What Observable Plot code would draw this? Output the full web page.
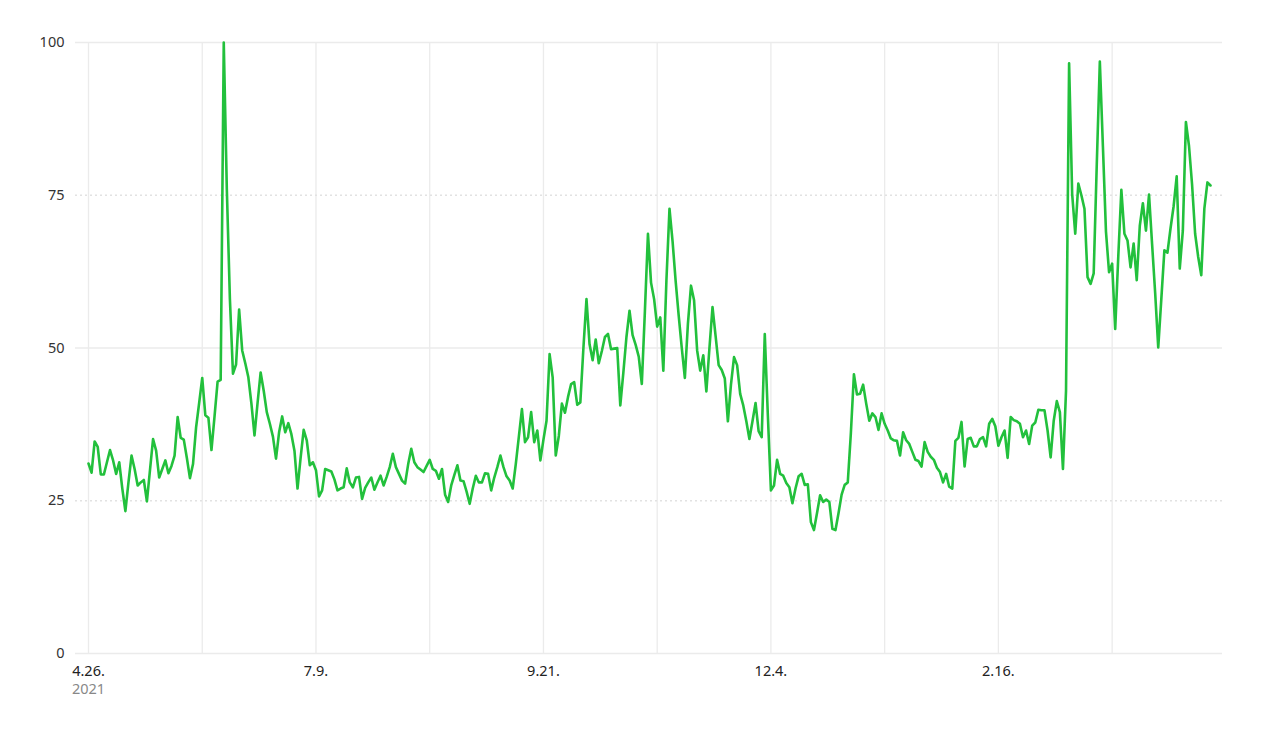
<!DOCTYPE html>
<html>
<head>
<meta charset="utf-8">
<script src="https://cdn.jsdelivr.net/npm/d3@7"></script>
<script src="https://cdn.jsdelivr.net/npm/@observablehq/plot@0.6"></script>
<style>
  html, body { margin: 0; padding: 0; background: #fff; }
  #chart svg { display: block; }
</style>
</head>
<body>
<div id="chart"></div>
<script>
// ---- data ----
const startDate = "2021-04-26";
const values = [
  31.1, 29.6, 34.7, 33.8, 29.3, 29.3, 31.3, 33.3, 31.6, 29.4,
  31.3, 27.0, 23.3, 28.0, 32.4, 30.2, 27.5, 28.0, 28.4, 24.9,
  30.0, 35.1, 33.2, 28.8, 30.2, 31.6, 29.5, 30.7, 32.4, 38.7,
  35.3, 35.0, 32.0, 28.7, 31.0, 37.0, 41.0, 45.1, 39.0, 38.6,
  33.3, 38.8, 44.5, 44.8, 100, 76.0, 58.0, 45.8, 47.3, 56.3,
  49.6, 47.5, 45.2, 40.9, 35.7, 41.0, 46.0, 43.0, 39.5, 37.6,
  35.5, 31.9, 36.2, 38.8, 36.2, 37.7, 35.9, 33.2, 27.0, 32.0,
  36.6, 34.9, 30.8, 31.3, 30.0, 25.7, 26.7, 30.2, 30.0, 29.8,
  28.5, 26.7, 27.0, 27.2, 30.3, 28.0, 27.2, 28.8, 28.9, 25.3,
  27.1, 28.0, 28.8, 26.8, 28.0, 29.1, 27.5, 28.9, 30.5, 32.7,
  30.5, 29.4, 28.3, 27.8, 31.0, 33.5, 31.3, 30.5, 30.1, 29.7,
  30.7, 31.7, 30.2, 29.9, 28.6, 30.2, 26.0, 24.8, 27.5, 29.2,
  30.8, 28.3, 28.2, 26.5, 24.5, 27.0, 29.1, 28.0, 28.0, 29.5,
  29.4, 26.7, 28.8, 30.5, 32.4, 30.5, 29.0, 28.3, 27.0, 31.0,
  35.5, 40.0, 34.6, 35.4, 39.5, 34.6, 36.5, 31.6, 35.0, 38.1,
  49.0, 45.2, 32.4, 35.6, 40.9, 39.4, 42.0, 44.1, 44.4, 40.7,
  41.1, 50.0, 58.0, 50.6, 48.0, 51.4, 47.5, 49.5, 51.8, 52.3,
  49.8, 49.9, 50.0, 40.6, 46.0, 51.8, 56.1, 52.1, 50.5, 48.6,
  44.1, 56.0, 68.7, 60.7, 58.0, 53.5, 55.0, 46.3, 61.0, 72.8,
  67.5, 61.0, 55.3, 50.0, 45.1, 54.0, 60.2, 57.8, 49.6, 46.3,
  48.8, 42.9, 50.0, 56.7, 52.0, 47.2, 46.4, 45.0, 38.0, 44.0,
  48.5, 47.2, 42.5, 40.6, 38.0, 35.1, 38.0, 41.0, 36.4, 35.4,
  52.3, 39.0, 26.7, 27.5, 31.7, 29.4, 29.1, 27.9, 27.2, 24.6,
  27.0, 29.0, 29.4, 27.6, 27.7, 21.5, 20.2, 23.0, 25.9, 24.8,
  25.2, 24.8, 20.4, 20.2, 23.0, 26.0, 27.6, 28.0, 36.0, 45.7,
  42.4, 42.5, 44.0, 40.9, 38.1, 39.3, 38.7, 36.6, 39.3, 37.6,
  36.5, 35.2, 34.9, 34.8, 32.4, 36.2, 34.9, 34.3, 33.0, 31.7,
  31.5, 30.6, 34.6, 33.0, 32.2, 31.7, 30.4, 29.7, 28.0, 29.4,
  27.3, 27.0, 34.8, 35.3, 37.9, 30.6, 35.1, 35.3, 33.9, 33.9,
  35.1, 35.4, 33.9, 37.6, 38.4, 37.2, 34.0, 35.4, 36.5, 32.0,
  38.7, 38.2, 38.0, 37.6, 35.4, 36.5, 34.3, 37.3, 37.8, 39.9,
  39.8, 39.8, 36.5, 32.1, 38.1, 41.3, 39.5, 30.2, 43.0, 96.6,
  75.2, 68.7, 76.9, 75.0, 72.8, 61.6, 60.5, 62.2, 80.0, 96.9,
  83.0, 69.0, 62.4, 63.8, 53.1, 65.0, 75.9, 68.7, 67.6, 63.2,
  67.1, 61.1, 70.0, 73.7, 69.2, 75.1, 67.0, 59.0, 50.1, 58.0,
  66.0, 65.6, 69.6, 73.2, 78.1, 63.0, 69.2, 87.0, 83.1, 76.8,
  68.7, 64.9, 61.9, 72.8, 77.1, 76.6
];
const labeledTickDates = ["2021-04-26", "2021-07-09", "2021-09-21", "2021-12-04", "2022-02-16"];
const tickLabels = ["4.26.", "7.9.", "9.21.", "12.4.", "2.16."];
const gridDates = ["2021-04-26", "2021-06-02", "2021-07-09", "2021-08-15", "2021-09-21",
                   "2021-10-28", "2021-12-04", "2022-01-10", "2022-02-16", "2022-03-25"];
const yearLabel = { date: "2021-04-26", text: "2021" };
const yTicks = [0, 25, 50, 75, 100];
const ySolid = [0, 50, 100];
const yDotted = [25, 75];

// ---- build ----
const parse = d3.utcParse("%Y-%m-%d");
const start = parse(startDate);
const data = values.map((v, i) => ({ date: d3.utcDay.offset(start, i), value: v }));
const end = data[data.length - 1].date;

const chart = Plot.plot({
  width: 1280,
  height: 731,
  marginLeft: 75,
  marginRight: 58,
  marginTop: 42,
  marginBottom: 78,
  style: { fontFamily: "'Noto Sans', 'Open Sans', sans-serif", fontSize: "14.5px", background: "#fff" },
  x: { type: "utc", domain: [start, end], insetLeft: 13, insetRight: 12 },
  y: { domain: [0, 100] },
  marks: [
    Plot.ruleX(gridDates.map(parse), { y1: 0, y2: 100, stroke: "#ebebeb", strokeWidth: 1.3 }),
    Plot.ruleY(ySolid, { stroke: "#ebebeb", strokeWidth: 1.3 }),
    Plot.ruleY(yDotted, { stroke: "#e2e2e2", strokeWidth: 1.3, strokeDasharray: "2,3" }),
    Plot.line(data, { x: "date", y: "value", stroke: "#22c03c", strokeWidth: 2.6, strokeLinejoin: "round" }),
    Plot.axisY({ ticks: yTicks, tickSize: 0, tickPadding: 11, fontSize: 14.5, fill: "#333", label: null }),
    Plot.axisX({ ticks: labeledTickDates.map(parse), tickFormat: (d, i) => tickLabels[i],
                 tickSize: 0, tickPadding: 12, fontSize: 14.5, fill: "#222", label: null }),
    Plot.text([yearLabel], { x: d => parse(d.date), text: "text", frameAnchor: "bottom",
                             dy: 40, fill: "#888", fontSize: 14.5 })
  ]
});
document.getElementById("chart").appendChild(chart);
</script>
</body>
</html>
